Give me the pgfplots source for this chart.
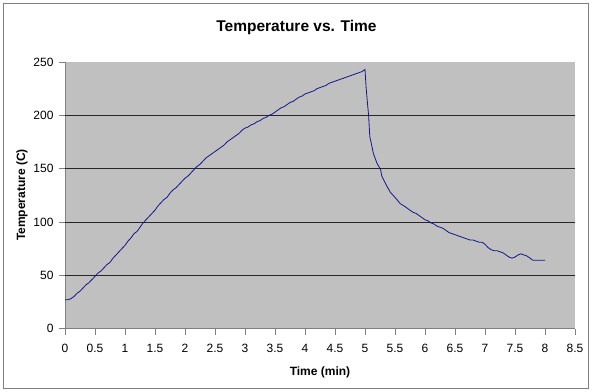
\documentclass[border=0pt]{standalone}
\usepackage{fontspec}
\setmainfont{Liberation Sans}
\usepackage{pgfplots}
\usepackage{pgfplotstable}
\pgfplotsset{compat=1.18}
\definecolor{plotbg}{RGB}{192,192,192}
\definecolor{linecol}{RGB}{20,20,140}
\definecolor{axgray}{RGB}{128,128,128}
\pgfplotstableread{
t T
0 27
0.05 27
0.1 28
0.15 30
0.2 33
0.25 35
0.3 38
0.35 41
0.4 43
0.45 46
0.5 49
0.55 52
0.6 54
0.65 57
0.7 60
0.75 62
0.8 66
0.85 69
0.9 72
0.95 75
1.0 78
1.05 82
1.1 85
1.15 89
1.2 91
1.25 95
1.3 99
1.35 102
1.4 105
1.45 108
1.5 111
1.55 115
1.6 118
1.65 121
1.7 123
1.75 127
1.8 130
1.85 132
1.9 135
1.95 138
2.0 141
2.05 143
2.1 146
2.15 149
2.2 152
2.25 154
2.3 157
2.35 160
2.4 162
2.45 164
2.5 166
2.55 168
2.6 170
2.65 172
2.7 175
2.75 177
2.8 179
2.85 181
2.9 183
2.95 186
3.0 188
3.05 189
3.1 191
3.15 192
3.2 194
3.25 195
3.3 197
3.35 198
3.4 200
3.45 201
3.5 203
3.55 205
3.6 207
3.65 208
3.7 210
3.75 212
3.8 213
3.85 215
3.9 217
3.95 218
4.0 220
4.05 221
4.1 222
4.15 223
4.2 225
4.25 226
4.3 227
4.35 228
4.4 230
4.45 231
4.5 232
4.55 233
4.6 234
4.65 235
4.7 236
4.75 237
4.8 238
4.85 239
4.9 240
4.95 241
5.0 243
5.02 225
5.04 212
5.06 200
5.08 180
5.1 175
5.14 164
5.2 155
5.26 149
5.28 143
5.35 135
5.42 128
5.5 123
5.59 117
5.65 115
5.7 113
5.75 111
5.8 109
5.85 108
5.9 106
5.95 104
6.0 102
6.05 101
6.1 99
6.15 98
6.2 96
6.25 95
6.3 94
6.35 92
6.4 90
6.45 89
6.5 88
6.55 87
6.6 86
6.65 85
6.7 84
6.75 83
6.8 83
6.85 82
6.9 81
6.95 81
7.0 79
7.05 76
7.1 74
7.15 73
7.2 73
7.25 72
7.3 71
7.35 69
7.4 67
7.45 66
7.5 67
7.55 69
7.6 70
7.65 69
7.7 68
7.75 66
7.8 64
7.85 64
7.9 64
7.95 64
8.0 64
}\tempdata
\begin{document}
\begin{tikzpicture}[x=1pt,y=1pt]
\useasboundingbox (0,0) rectangle (593,391);
\fill[white] (0,0) rectangle (593,391);
\draw[axgray, line width=0.8pt] (3.5,3) rectangle (588,388);
\node[font=\fontsize{15.5}{18}\selectfont\bfseries] at (296.5,363.5) {Temperature vs. Time};
\begin{axis}[
  at={(65pt,62.5pt)}, anchor=origin,
  scale only axis, width=510pt, height=266.5pt,
  xmin=0, xmax=8.5, ymin=0, ymax=250,
  axis background/.style={fill=plotbg},
  axis x line*=bottom, axis y line*=left,
  axis line style={axgray, line width=0.8pt},
  tick style={axgray, line width=0.8pt},
  tick align=outside, major tick length=6pt,
  xtick={0,0.5,1,1.5,2,2.5,3,3.5,4,4.5,5,5.5,6,6.5,7,7.5,8,8.5},
  ytick={0,50,100,150,200,250},
  extra y ticks={50,100,150,200},
  extra y tick labels={},
  extra y tick style={grid=major, major tick length=0pt},
  major grid style={black!85, line width=0.8pt},
  /pgf/number format/assume math mode=true,
  ticklabel style={font=\fontsize{12}{14}\selectfont},
  xticklabel style={yshift=-6pt},
  yticklabel style={xshift=-2pt},
]
\addplot[linecol, line width=0.8pt, mark=none] table[x=t, y=T] {\tempdata};
\end{axis}
\node[font=\fontsize{12}{14}\selectfont\bfseries] at (320,18.5) {Time (min)};
\node[font=\fontsize{12}{14}\selectfont\bfseries, rotate=90] at (22,196) {Temperature (C)};
\end{tikzpicture}
\end{document}
